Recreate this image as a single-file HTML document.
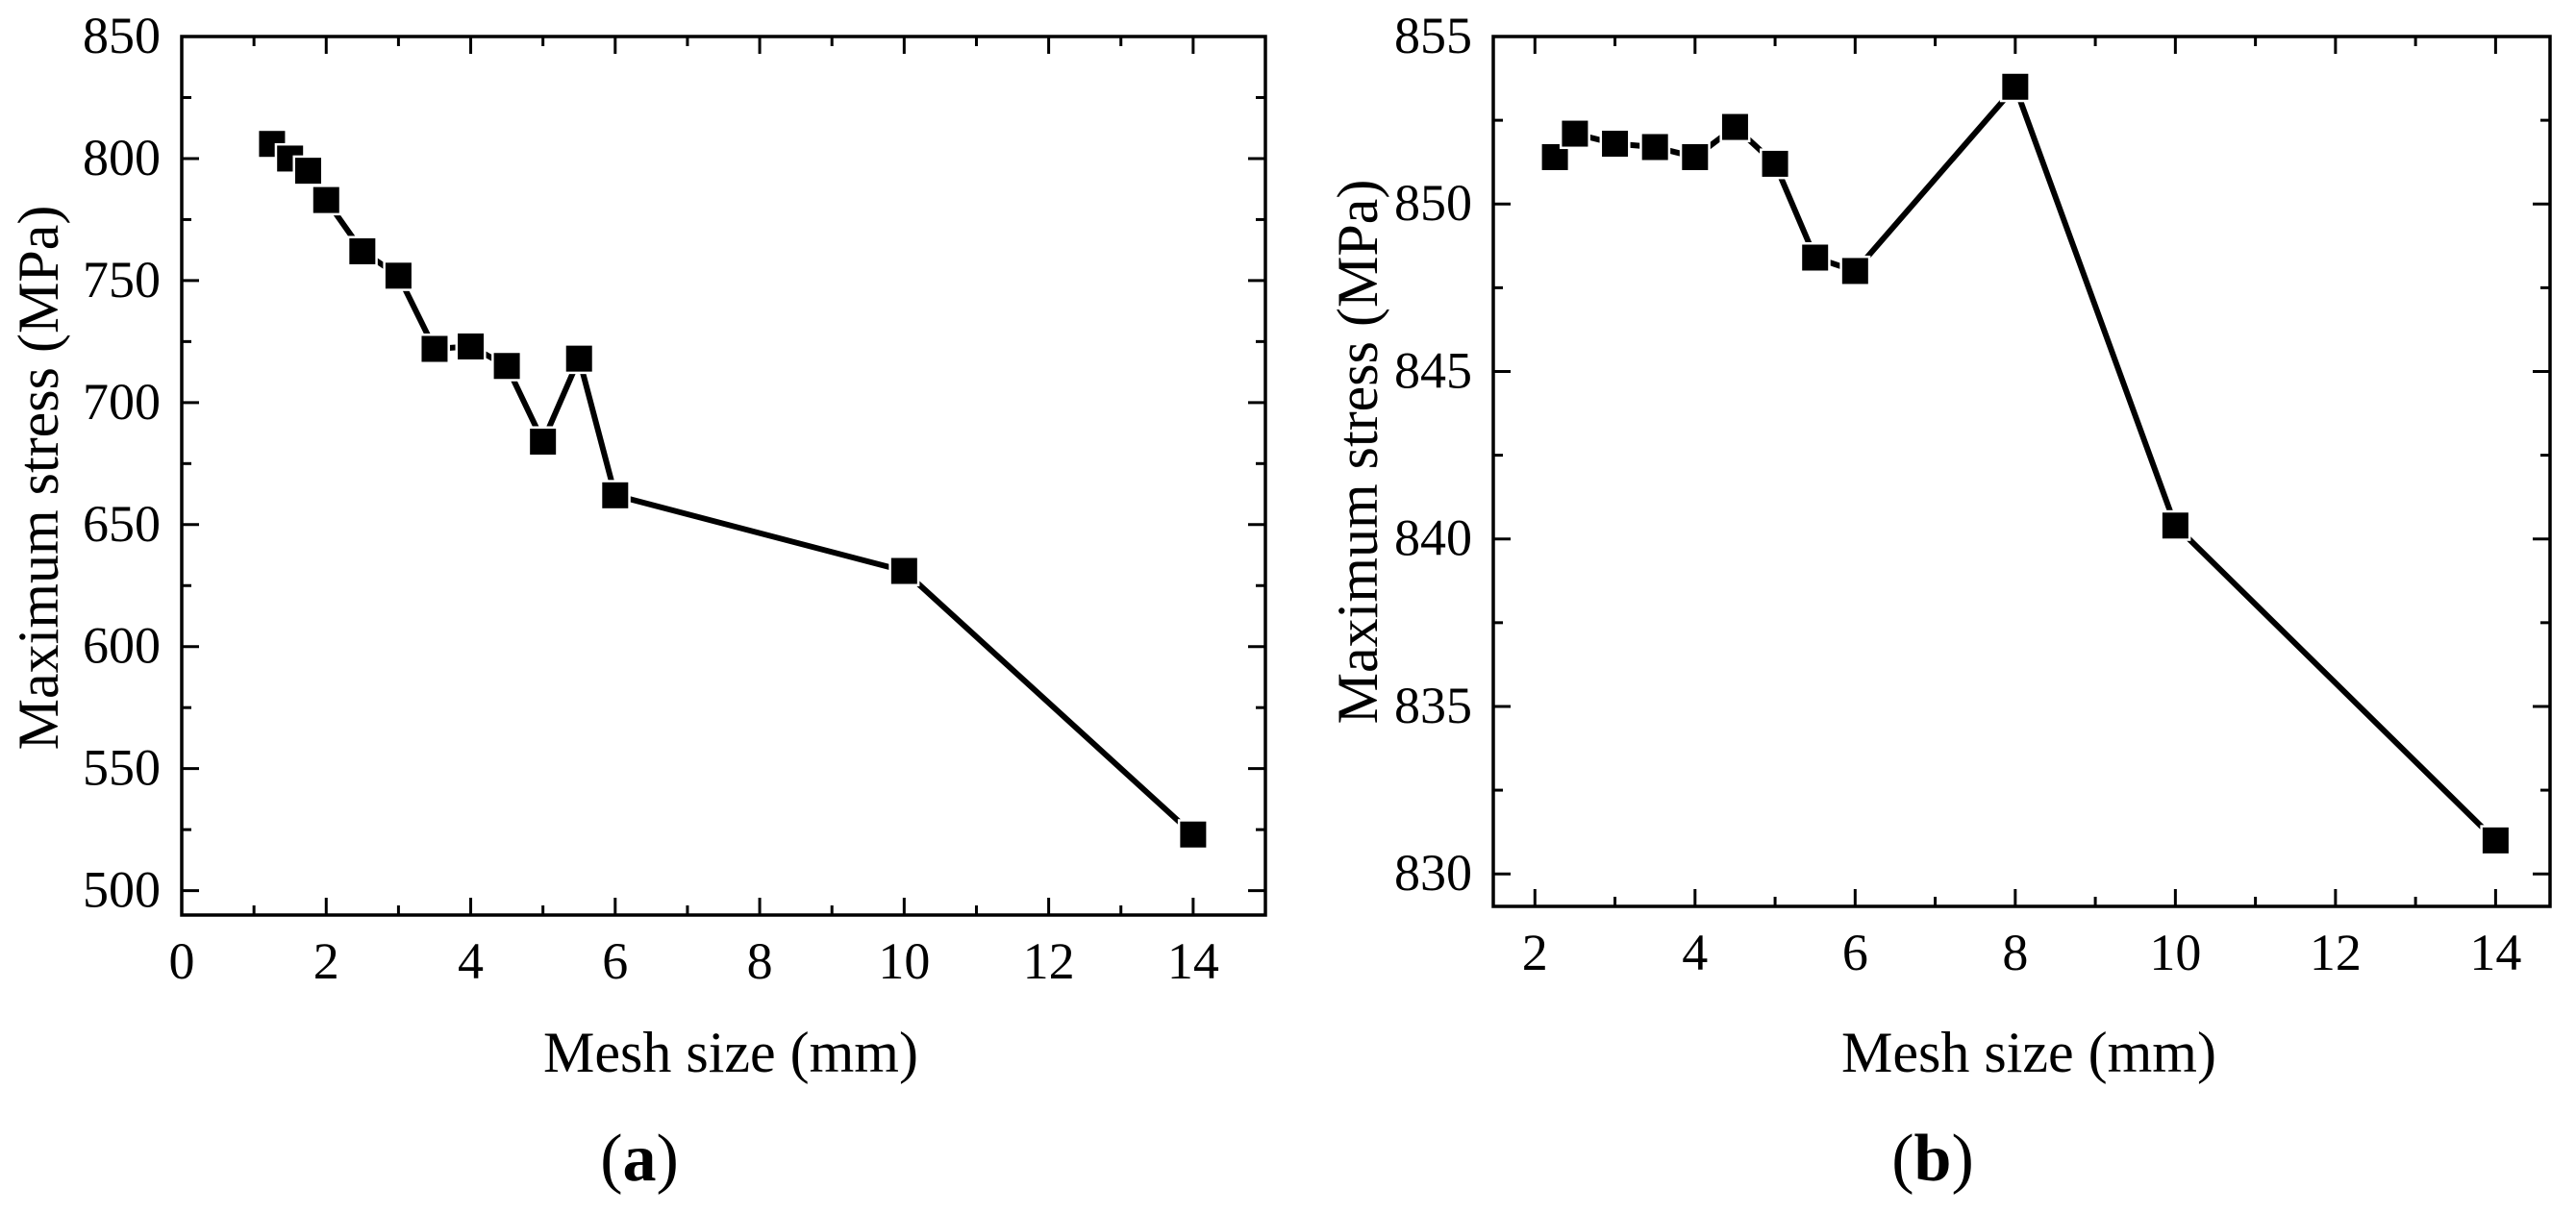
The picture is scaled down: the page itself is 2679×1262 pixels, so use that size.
<!DOCTYPE html>
<html><head><meta charset="utf-8"><style>
html,body{margin:0;padding:0;background:#fff;}
svg{display:block;font-family:"Liberation Serif",serif;}
</style></head><body>
<svg id="fig" width="2679" height="1262" viewBox="0 0 2679 1262" xmlns="http://www.w3.org/2000/svg"></svg>
<script>
const aX = [1.25,1.5,1.75,2,2.5,3,3.5,4,4.5,5,5.5,6,10,14];
const aY = [806,800,795,783,762,752,722,723,715,684,718,662,631,523];
const aXTicks = [0,2,4,6,8,10,12,14];
const aYTicks = [500,550,600,650,700,750,800,850];
const bX = [2.25,2.5,3,3.5,4,4.5,5,5.5,6,8,10,14];
const bY = [851.4,852.1,851.8,851.7,851.4,852.3,851.2,848.4,848.0,853.5,840.4,831.0];
const bXTicks = [2,4,6,8,10,12,14];
const bYTicks = [830,835,840,845,850,855];

const NS="http://www.w3.org/2000/svg";
const svg=document.getElementById('fig');
function mk(tag,attrs,parent){const e=document.createElementNS(NS,tag);for(const k in attrs)e.setAttribute(k,attrs[k]);(parent||svg).appendChild(e);return e;}

function panel(o){
  const g=mk('g',{});
  
  
  const sx=v=>o.L+(v-o.x0)/(o.x1-o.x0)*(o.R-o.L);
  const sy=v=>o.B-(v-o.y0)/(o.y1-o.y0)*(o.B-o.T);
  const frame=mk('rect',{x:o.L,y:o.T,width:o.R-o.L,height:o.B-o.T,fill:'none',stroke:'#000','stroke-width':3.5},g);
  
  
  const xstep=o.xTicks[1]-o.xTicks[0];
  for(let v=o.xTicks[0]-xstep/2; v<=o.x1+1e-9; v+=xstep/2){
    if(v<o.x0) continue;
    const major=o.xTicks.some(t=>Math.abs(t-v)<1e-6);
    const len=major?18:10;
    mk('line',{x1:sx(v),x2:sx(v),y1:o.B,y2:o.B-len,stroke:'#000','stroke-width':3},g);
    mk('line',{x1:sx(v),x2:sx(v),y1:o.T,y2:o.T+len,stroke:'#000','stroke-width':3},g);
  }
  o.xTicks.forEach(t=>{
    const tx=mk('text',{x:sx(t),y:o.B+66,'font-size':54,'text-anchor':'middle'},g);
    tx.textContent=t;
    
    
  });
  const ystep=o.yTicks[1]-o.yTicks[0];
  for(let v=o.yTicks[0]-ystep/2; v<=o.y1+1e-9; v+=ystep/2){
    if(v<o.y0) continue;
    const major=o.yTicks.some(t=>Math.abs(t-v)<1e-6);
    const len=major?18:10;
    mk('line',{x1:o.L,x2:o.L+len,y1:sy(v),y2:sy(v),stroke:'#000','stroke-width':3},g);
    mk('line',{x1:o.R-len,x2:o.R,y1:sy(v),y2:sy(v),stroke:'#000','stroke-width':3},g);
  }
  o.yTicks.forEach(t=>{
    const tx=mk('text',{x:o.L-22,y:sy(t)+17,'font-size':54,'text-anchor':'end'},g);
    tx.textContent=t;
    
    
  });
  const pts=o.xs.map((x,i)=>sx(x)+','+sy(o.ys[i])).join(' ');
  const line=mk('polyline',{points:pts,fill:'none',stroke:'#000','stroke-width':6,'stroke-linejoin':'miter'},g);
  
  
  o.xs.forEach((x,i)=>{
    const m=mk('rect',{x:sx(x)-13.5,y:sy(o.ys[i])-13.5,width:27,height:27,fill:'#000',stroke:'#fff','stroke-width':5,'paint-order':'stroke'},g);
    
    
  });
  const xt=mk('text',{x:o.xtX,y:1115,'font-size':60,'text-anchor':'middle','xml:space':'preserve'},g);
  xt.textContent=o.xTitle;
  
  
  const yt=mk('text',{x:0,y:0,'font-size':60,'text-anchor':'middle',transform:`translate(${o.ytX},${o.ytY}) rotate(-90)`,'xml:space':'preserve'},g);
  yt.textContent=o.yTitle;
  
  
  const lb=mk('text',{x:o.lbX,y:1228,'font-size':70,'text-anchor':'middle'},g);
  lb.innerHTML='(<tspan font-weight="bold">'+o.label+'</tspan>)';
  
  
}
panel({name:'panel-a',L:189,R:1316,T:38,B:952,x0:0,x1:15,y0:490,y1:850,xs:aX,ys:aY,xTicks:aXTicks,yTicks:aYTicks,
  xTitle:'Mesh size (mm)',xtX:760,yTitle:'Maximum stress (MPa)',ytX:60,ytY:497,label:'a',lbX:665});
panel({name:'panel-b',L:1553,R:2652,T:38,B:943,x0:1.48,x1:14.68,y0:829.03,y1:855,xs:bX,ys:bY,xTicks:bXTicks,yTicks:bYTicks,
  xTitle:'Mesh size  (mm)',xtX:2110,yTitle:'Maximum stress  (MPa)',ytX:1432,ytY:470,label:'b',lbX:2010});
</script>
</body></html>
